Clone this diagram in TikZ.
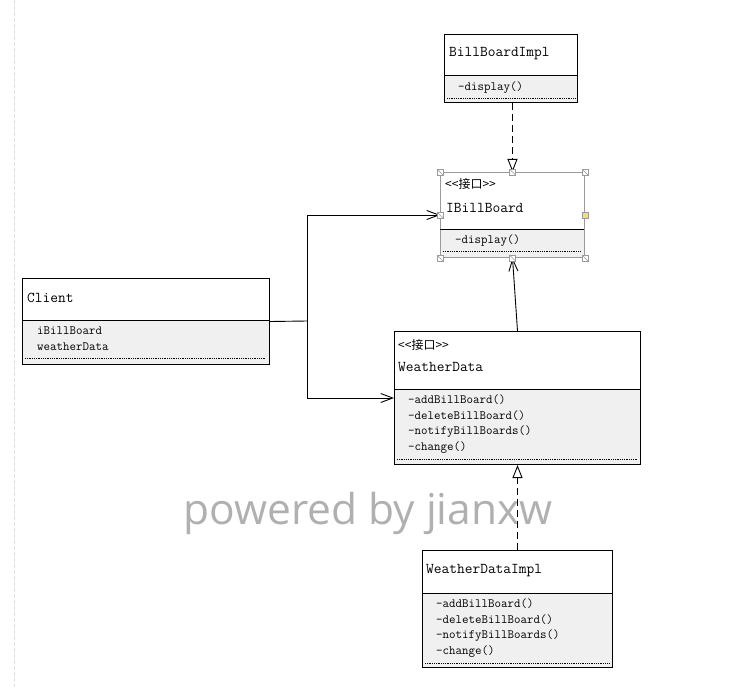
\documentclass[tikz,border=0pt]{standalone}
\usepackage{fontspec}
\newfontfamily\cjk{Noto Sans CJK SC}
\newfontfamily\wmfont{Open Sans}
\usetikzlibrary{arrows.meta}
\definecolor{compbg}{HTML}{F0F0F0}
\definecolor{selgray}{HTML}{9A9A9A}
\definecolor{wmgray}{HTML}{B0B0B0}
\definecolor{handleY}{HTML}{F7DC6F}
\tikzset{
  clsbox/.style={draw=black, line width=1pt, rectangle, inner sep=0pt, anchor=north west},
  selbox/.style={draw=selgray, line width=1pt, rectangle, inner sep=0pt, anchor=north west},
  title/.style={anchor=west, inner sep=0pt, font=\ttfamily\fontsize{15}{17}\selectfont},
  member/.style={anchor=west, inner sep=0pt, font=\ttfamily\fontsize{12.6}{14}\selectfont},
  stereo/.style={anchor=west, inner sep=0pt, font=\cjk\fontsize{12}{14}\selectfont},
  divider/.style={line width=1pt},
  dotline/.style={line width=0.5pt, dash pattern=on 0.8pt off 1pt},
  assoc/.style={line width=0.9pt, -{Straight Barb[length=12pt,width=9pt,line width=0.9pt]}},
  realize/.style={line width=0.9pt, dash pattern=on 7pt off 4pt, -{Triangle[open,fill=white,length=13pt,width=10pt,line width=0.9pt]}},
  handle/.style={draw=selgray, fill=white, line width=0.6pt, rectangle, minimum size=6pt, inner sep=0pt,
     path picture={\draw[selgray, line width=0.5pt] (path picture bounding box.north west) -- (path picture bounding box.south east);}},
  yhandle/.style={draw=selgray, fill=handleY, line width=0.6pt, rectangle, minimum size=6pt, inner sep=0pt},
}
\begin{document}
\begin{tikzpicture}[x=1pt,y=-1pt]
\useasboundingbox (0,0) rectangle (743,687);
% faint guide line on the left
\draw[black!12, line width=1pt, dash pattern=on 4pt off 2pt] (14,0) -- (14,687);

% watermark
\node[anchor=base, inner sep=0pt, text=wmgray, font=\wmfont\fontsize{42.5}{46}\selectfont] (wm) at (368,524) {powered by jianxw};

% ---------- BillBoardImpl ----------
\fill[compbg] (444,76) rectangle (577,102);
\node[clsbox, minimum width=133pt, minimum height=68pt] (bbi) at (444,34) {};
\draw[divider] (444,76) -- (577,76);
\draw[dotline] (447,98) -- (575,98);
\node[title] (bbiT) at (449,54) {BillBoardImpl};
\node[member] (bbiM1) at (458,88) {-display()};

% ---------- IBillBoard ----------
\fill[compbg] (440,229) rectangle (584,257);
\node[selbox, minimum width=144pt, minimum height=85pt] (ibb) at (440,172) {};
\draw[line width=1pt] (440,229) -- (584,229);
\draw[dotline] (443,251) -- (581,251);
\node[stereo] (ibbS) at (445,184) {<{}<接口>{}>};
\node[title] (ibbT) at (446,208) {IBillBoard};
\node[member] (ibbM1) at (455,241) {-display()};

% ---------- Client ----------
\fill[compbg] (22,320) rectangle (269,364);
\node[clsbox, minimum width=247pt, minimum height=86pt] (cli) at (22,278) {};
\draw[divider] (22,320) -- (269,320);
\draw[dotline] (25,358) -- (266,358);
\node[title] (cliT) at (27,298) {Client};
\node[member] (cliA1) at (37,331) {iBillBoard};
\node[member] (cliA2) at (37,347) {weatherData};

% ---------- WeatherData ----------
\fill[compbg] (394,389) rectangle (640,464);
\node[clsbox, minimum width=246pt, minimum height=133pt] (wd) at (394,331) {};
\draw[divider] (394,389) -- (640,389);
\draw[dotline] (397,459) -- (637,459);
\node[stereo] (wdS) at (398,345) {<{}<接口>{}>};
\node[title] (wdT) at (398,367) {WeatherData};
\node[member] (wdM1) at (408,400) {-addBillBoard()};
\node[member] (wdM2) at (408,416) {-deleteBillBoard()};
\node[member] (wdM3) at (408,432) {-notifyBillBoards()};
\node[member] (wdM4) at (408,448) {-change()};

% ---------- WeatherDataImpl ----------
\fill[compbg] (422,593) rectangle (612,667);
\node[clsbox, minimum width=190pt, minimum height=117pt] (wdi) at (422,550) {};
\draw[divider] (422,593) -- (612,593);
\draw[dotline] (425,663) -- (609,663);
\node[title] (wdiT) at (426,571) {WeatherDataImpl};
\node[member] (wdiM1) at (436,604) {-addBillBoard()};
\node[member] (wdiM2) at (436,620) {-deleteBillBoard()};
\node[member] (wdiM3) at (436,636) {-notifyBillBoards()};
\node[member] (wdiM4) at (436,652) {-change()};

% ---------- connectors ----------
\coordinate (j) at (307,321);
\draw[line width=0.9pt] (cli.east) -- (j);
\draw[assoc] (j) |- (ibb.west);
\draw[assoc] (j) |- (wd.west);
\draw[assoc] (wd.north) -- (ibb.south);
\draw[realize] (ibb.north |- bbi.south) -- (ibb.north);
\draw[realize] (wdi.north) -- (wd.south);

% ---------- selection handles ----------
\node[handle] (h1) at (ibb.north west) {};
\node[handle] (h2) at (ibb.north) {};
\node[handle] (h3) at (ibb.north east) {};
\node[handle] (h4) at (ibb.west) {};
\node[yhandle] (h5) at (ibb.east) {};
\node[handle] (h6) at (ibb.south west) {};
\node[handle] (h7) at (ibb.south) {};
\node[handle] (h8) at (ibb.south east) {};
\end{tikzpicture}
\end{document}
